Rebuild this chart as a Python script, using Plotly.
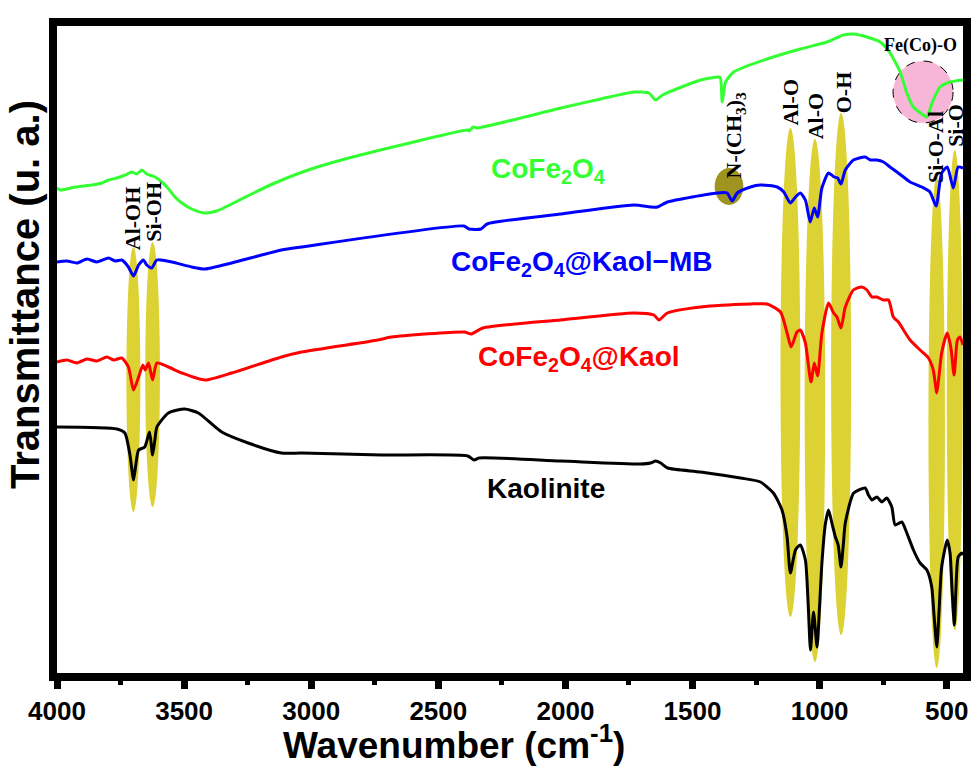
import plotly.graph_objects as go

# ---------------- data (wavenumber cm-1, transmittance a.u. offset) ----------------
wn_kaol = [4000, 3764, 3733, 3713, 3699, 3690, 3679, 3655, 3636, 3624, 3615, 3607, 3562, 3498, 3444,
           3352, 3248, 3117, 3038, 2724, 2384, 2359, 2340, 2018, 1704, 1665, 1645, 1625, 1598, 1468,
           1311, 1233, 1182, 1148, 1128, 1115, 1095, 1076, 1056, 1044, 1036, 1024, 1010, 1001, 991,
           978, 965, 950, 938, 927, 916, 907, 899, 866, 821, 808, 794, 775, 755, 736, 716, 703, 677,
           657, 631, 605, 578, 559, 550, 539, 530, 520, 498, 487, 479, 470, 464, 455, 441, 436]
t_kaol = [246, 244, 240, 218, 193, 208, 223, 226, 241, 218, 233, 246, 260, 264, 260,
          241, 230, 220, 220, 218, 217, 213, 215, 212, 209, 210, 212, 210, 205, 201,
          195, 191, 180, 163, 136, 100, 123, 128, 113, 63, 23, 61, 26, 63, 110,
          148, 163, 148, 136, 128, 106, 128, 150, 180, 185, 178, 173, 176, 171, 175, 166, 148, 151,
          140, 123, 110, 103, 86, 58, 26, 63, 106, 133, 120, 83, 48, 83, 116, 120, 118]

wn_kaol_cf = [4000, 3961, 3922, 3882, 3843, 3804, 3776, 3745, 3719, 3699, 3679, 3662, 3653, 3640, 3624,
              3607, 3562, 3509, 3418, 3313, 3117, 3038, 2737, 2685, 2397, 2371, 2325, 2018, 1730,
              1652, 1632, 1599, 1468, 1272, 1207, 1154, 1128, 1112, 1089, 1076, 1056, 1034, 1021,
              1008, 991, 965, 945, 932, 916, 899, 867, 834, 814, 794, 775, 749, 729, 710, 690, 670,
              644, 605, 572, 553, 539, 530, 520, 498, 484, 471, 458, 448, 436]
t_kaol_cf = [311, 313, 310, 314, 312, 316, 313, 315, 306, 283, 296, 308, 303, 310, 293,
             310, 306, 300, 293, 300, 316, 321, 333, 336, 341, 339, 345, 353, 360,
             358, 353, 360, 366, 369, 369, 361, 340, 326, 341, 343, 330, 291, 310,
             297, 340, 370, 360, 356, 345, 366, 383, 386, 383, 376, 376, 373, 373, 356, 351, 343,
             333, 323, 315, 303, 280, 298, 320, 340, 326, 298, 333, 336, 328]

wn_kaol_mb = [4000, 3961, 3922, 3882, 3843, 3797, 3772, 3745, 3719, 3699, 3679, 3660, 3647, 3627, 3607,
              3549, 3470, 3418, 3313, 3117, 3038, 2399, 2379, 2332, 2308, 2018, 1730, 1665, 1638,
              1599, 1403, 1364, 1344, 1324, 1272, 1233, 1167, 1141, 1115, 1095, 1076, 1056, 1037,
              1021, 1008, 991, 965, 943, 929, 916, 899, 867, 821, 801, 775, 749, 723, 696, 670, 644,
              598, 566, 542, 520, 498, 474, 455, 436]
t_kaol_mb = [411, 412, 410, 414, 411, 415, 412, 413, 406, 397, 408, 413, 408, 405, 413,
             411, 406, 404, 410, 423, 426, 447, 444, 444, 449, 459, 468, 466, 466,
             471, 480, 480, 472, 480, 486, 488, 486, 481, 470, 476, 480, 473, 451,
             465, 456, 485, 500, 496, 495, 489, 503, 513, 516, 513, 513, 511, 506, 501, 496, 491,
             486, 481, 467, 500, 506, 485, 506, 505]

wn_cofe = [4000, 3987, 3928, 3863, 3823, 3797, 3764, 3732, 3706, 3686, 3666, 3647, 3614, 3588, 3564,
           3536, 3509, 3470, 3418, 3372, 3313, 3235, 3143, 3012, 2881, 2646, 2384, 2379, 2363, 2348,
           2018, 1861, 1731, 1672, 1645, 1618, 1468, 1397, 1390, 1383, 1370, 1338, 1207, 1076, 971,
           906, 867, 814, 762, 723, 683, 657, 631, 592, 579, 553, 526, 487, 436]
t_cofe = [485, 483, 486, 488, 490, 493, 495, 498, 501, 499, 503, 499, 496, 491, 485,
          476, 470, 464, 460, 462, 469, 479, 490, 503, 513, 528, 543, 542, 546, 545,
          565, 574, 581, 580, 573, 578, 593, 596, 595, 571, 591, 601, 614, 624, 631,
          638, 639, 636, 631, 620, 601, 580, 566, 558, 556, 573, 586, 591, 593]

series_names = ["Kaolinite", "CoFe2O4@Kaol", "CoFe2O4@Kaol-MB", "CoFe2O4"]
series_colors = ["#000000", "#ff0000", "#0000ff", "#33ff33"]

x_ticks = [4000, 3500, 3000, 2500, 2000, 1500, 1000, 500]
x_range = [4000, 436]
y_range = [0, 647]

# sample labels: text, wavenumber, transmittance
sample_labels = ["Kaolinite", "CoFe<sub>2</sub>O<sub>4</sub>@Kaol",
                 "CoFe<sub>2</sub>O<sub>4</sub>@Kaol\u2212MB", "CoFe<sub>2</sub>O<sub>4</sub>"]
sample_label_wn = [2077, 1947, 1935, 2069]
sample_label_t = [185, 315, 410, 503]

# band labels (rotated)
band_labels = ["Al-OH", "Si-OH", "N-(CH<sub>3</sub>)<sub>3</sub>", "Al-O", "Al-O", "O-H", "Si-O-Al", "Si-O"]
band_label_wn = [3704, 3623, 1331, 1115, 1017, 907, 546, 468]
band_label_t = [455, 461, 538, 571, 557, 581, 526, 548]

# highlight regions: wn_from, wn_to, t_low, t_high
yellow_bands = [(3727, 3672, 161, 426), (3653, 3595, 166, 431), (1154, 1076, 56, 545),
                (1059, 978, 11, 534), (955, 876, 38, 560), (572, 507, 5, 496), (500, 437, 43, 523)]
olive_band = (1413, 1300, 468, 505)
pink_band = (711, 475, 550, 612)

# ---------------- figure ----------------
L, R, T, B, W, H = 57, 9, 26, 93, 972, 766
PW, PH = W - L - R, H - T - B

fig = go.Figure()
all_x = [wn_kaol, wn_kaol_cf, wn_kaol_mb, wn_cofe]
all_y = [t_kaol, t_kaol_cf, t_kaol_mb, t_cofe]
for xs, ys, nm, col in zip(all_x, all_y, series_names, series_colors):
    fig.add_trace(go.Scatter(x=xs, y=ys, mode="lines", name=nm,
                             line=dict(color=col, width=3, shape="spline", smoothing=0.6),
                             showlegend=False, hoverinfo="skip"))

shapes = []
for (a, b, lo, hi) in yellow_bands:
    shapes.append(dict(type="circle", xref="x", yref="y", x0=a, x1=b, y0=lo, y1=hi,
                       fillcolor="#ddd233", line=dict(width=0), layer="below"))
shapes.append(dict(type="circle", xref="x", yref="y", x0=olive_band[0], x1=olive_band[1],
                   y0=olive_band[2], y1=olive_band[3], fillcolor="#9e941f",
                   line=dict(width=0), layer="below"))
shapes.append(dict(type="circle", xref="x", yref="y", x0=pink_band[0], x1=pink_band[1],
                   y0=pink_band[2], y1=pink_band[3], fillcolor="#f7b5d8",
                   line=dict(width=1, color="black", dash="dash"), layer="below"))

annotations = []
for txt, xw, yt, col in zip(sample_labels, sample_label_wn, sample_label_t, series_colors):
    annotations.append(dict(x=xw, y=yt, xref="x", yref="y", text=txt, showarrow=False,
                            font=dict(family="Arial, Liberation Sans", size=28, color=col, weight="bold"),
                            xanchor="center", yanchor="middle"))
for txt, xw, yt in zip(band_labels, band_label_wn, band_label_t):
    annotations.append(dict(x=xw, y=yt, xref="x", yref="y", text=txt, showarrow=False, textangle=-90,
                            font=dict(family="Times New Roman, Liberation Serif", size=22,
                                      color="black", weight="bold"),
                            xanchor="center", yanchor="middle"))
annotations.append(dict(x=605, y=628, xref="x", yref="y", text="Fe(Co)-O", showarrow=False,
                        font=dict(family="Times New Roman, Liberation Serif", size=18,
                                  color="black", weight="bold"),
                        xanchor="center", yanchor="middle"))
# axis titles (placed in paper coordinates of the plot area)
annotations.append(dict(x=(454 - L) / PW, y=(H - B - 767) / PH, xref="paper", yref="paper",
                        text="Wavenumber (cm<sup>-1</sup>)", showarrow=False,
                        font=dict(family="Arial, Liberation Sans", size=37, color="black", weight="bold"),
                        xanchor="center", yanchor="bottom", borderpad=0))
annotations.append(dict(x=(25 - L) / PW, y=(H - B - 295) / PH, xref="paper", yref="paper",
                        text="Transmittance (u. a.)", showarrow=False, textangle=-90,
                        font=dict(family="Arial, Liberation Sans", size=40, color="black", weight="bold"),
                        xanchor="center", yanchor="middle"))

fig.update_layout(
    width=W, height=H,
    margin=dict(l=L, r=R, t=T, b=B),
    paper_bgcolor="white", plot_bgcolor="white",
    shapes=shapes, annotations=annotations,
    xaxis=dict(range=x_range, tickvals=x_ticks, ticks="outside", ticklen=8, tickwidth=7,
               tickcolor="black", showline=True, linewidth=8, linecolor="black", mirror=True,
               showgrid=False, zeroline=False, automargin=False,
               tickfont=dict(family="Arial, Liberation Sans", size=26, color="black", weight="bold"),
               minor=dict(ticks="outside", ticklen=4, tickwidth=5, tickcolor="black", dtick=250,
                          tick0=0, showgrid=False)),
    yaxis=dict(range=y_range, showticklabels=False, ticks="", showline=True, linewidth=8,
               linecolor="black", mirror=True, showgrid=False, zeroline=False, automargin=False),
)

fig.write_html("out.html")
